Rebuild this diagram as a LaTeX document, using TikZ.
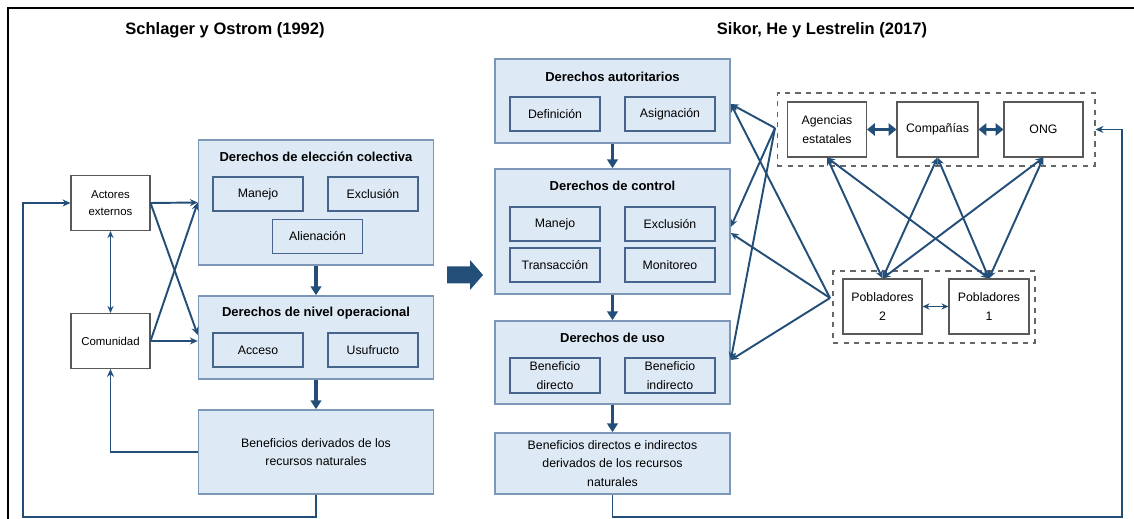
\documentclass[tikz,border=0pt]{standalone}
\usepackage{fontspec}
\setmainfont{Liberation Sans}
\usetikzlibrary{positioning,arrows.meta,shapes}
\definecolor{BoxFill}{RGB}{221,233,245}
\definecolor{BoxEdge}{RGB}{125,152,182}
\definecolor{SubEdge}{RGB}{70,100,140}
\definecolor{FlowBlue}{RGB}{35,78,120}

\tikzset{
  txt/.style={font=\fontsize{7}{10.5}\selectfont, align=center},
  bigbox/.style={rectangle, draw=BoxEdge, fill=BoxFill, line width=0.9pt, minimum width=4.7cm, inner sep=1pt, txt},
  subbox/.style={rectangle, draw=SubEdge, fill=BoxFill, line width=0.6pt, minimum width=1.8cm, minimum height=0.68cm, inner sep=1pt, txt},
  actor/.style={rectangle, draw=gray!70!black, fill=white, line width=0.6pt, minimum width=1.58cm, minimum height=1.1cm, inner sep=1pt, txt},
  small/.style={font=\fontsize{6.5}{9.6}\selectfont},
  group/.style={rectangle, draw=gray!80!black, dashed, line width=0.6pt},
  heading/.style={font=\bfseries\fontsize{7.4}{9}\selectfont},
  title/.style={font=\bfseries\fontsize{9.4}{11}\selectfont},
  flow/.style={draw=FlowBlue, line width=1.8pt, -{Triangle[length=5pt,width=6pt]}},
  link/.style={draw=FlowBlue, line width=1.1pt, -{Stealth[length=4.5pt,width=4pt]}},
  both/.style={draw=FlowBlue, line width=1.1pt, {Stealth[length=4.5pt,width=4pt]}-{Stealth[length=4.5pt,width=4pt]}},
  fatboth/.style={draw=FlowBlue, line width=1.6pt, {Triangle[length=4.5pt,width=7pt]}-{Triangle[length=4.5pt,width=7pt]}},
  thinboth/.style={draw=FlowBlue, line width=0.9pt, {Stealth[length=4pt,width=3.5pt]}-{Stealth[length=4pt,width=3.5pt]}},
}

\begin{document}
\begin{tikzpicture}[x=0.02cm, y=-0.02cm]
  \useasboundingbox (0,0) rectangle (1134,519);
  \draw[line width=1.3pt] (8,519) -- (8,8) -- (1134,8);

  \node[title] (tl) at (225,30) {Schlager y Ostrom (1992)};
  \node[title] (tr) at (822,30) {Sikor, He y Lestrelin (2017)};

  % Schlager y Ostrom
  \node[bigbox, minimum height=2.5cm] (ele) at (316,202.5) {};
  \node[heading] (eleT) at (316,157) {Derechos de elección colectiva};
  \node[subbox] (man1) at (258,194) {Manejo};
  \node[subbox] (exc1) at (373,194) {Exclusión};
  \node[subbox] (ali) at (317.5,236.5) {Alienación};

  \node[bigbox, minimum height=1.66cm] (ope) at (316,337.5) {};
  \node[heading] (opeT) at (316,313) {Derechos de nivel operacional};
  \node[subbox] (acc) at (258,350) {Acceso};
  \node[subbox] (usu) at (373,350) {Usufructo};

  \node[bigbox, minimum height=1.68cm] (ben1) at (316,452) {Beneficios derivados de los\\recursos naturales};

  \node[actor, small] (act) at (110.5,203) {Actores\\externos};
  \node[actor, small] (com) at (110.5,341) {Comunidad};

  \draw[flow] (ele.south) -- (ope.north);
  \draw[flow] (ope.south) -- (ben1.north);
  \draw[thinboth] (act.south) -- (com.north);
  \draw[link] (act.east) -- (ele.west);
  \draw[link] (act.east) -- ([yshift=0.05cm]ope.west);
  \draw[link] (com.east) -- (ele.west);
  \draw[link] (com.east) -- (com.east -| ope.west);
  \draw[link] (ben1.west) -| (com.south);
  \coordinate (loopL) at (23,517);
  \draw[link] (ben1.south) |- (loopL) |- (act.west);

  % big arrow between both schemes
  \fill[FlowBlue] (447,266.5) -- (470,266.5) -- (470,260) -- (483,275)
    -- (470,290) -- (470,283.5) -- (447,283.5) -- cycle;

  % Sikor, He y Lestrelin
  \node[bigbox, minimum height=1.68cm] (aut) at (612.5,101) {};
  \node[heading] (autT) at (612.5,77) {Derechos autoritarios};
  \node[subbox] (def) at (555,114) {Definición};
  \node[subbox] (asi) at (670,114) {Asignación};

  \node[bigbox, minimum height=2.5cm] (con) at (612.5,231.5) {};
  \node[heading] (conT) at (612.5,186) {Derechos de control};
  \node[subbox] (man2) at (555,224) {Manejo};
  \node[subbox] (exc2) at (670,224) {Exclusión};
  \node[subbox] (tra) at (555,265) {Transacción};
  \node[subbox] (mon) at (670,265) {Monitoreo};

  \node[bigbox, minimum height=1.66cm] (uso) at (612.5,362.5) {};
  \node[heading] (usoT) at (612.5,338) {Derechos de uso};
  \node[subbox, minimum height=0.7cm] (bdi) at (555,375.5) {Beneficio\\directo};
  \node[subbox, minimum height=0.7cm] (bin) at (670,375.5) {Beneficio\\indirecto};

  \node[bigbox, minimum height=1.22cm] (ben2) at (612.5,463.5) {Beneficios directos e indirectos\\derivados de los recursos\\naturales};

  \draw[flow] (aut.south) -- (con.north);
  \draw[flow] (con.south) -- (uso.north);
  \draw[flow] (uso.south) -- (ben2.north);

  \node[group, minimum width=6.36cm, minimum height=1.46cm] (grpT) at (936,129.5) {};
  \node[actor] (age) at (827,129.5) {Agencias\\estatales};
  \node[actor, minimum width=1.62cm] (cia) at (937.5,129.5) {Compañías};
  \node[actor] (ong) at (1043.5,129.5) {ONG};

  \node[group, minimum width=4.04cm, minimum height=1.44cm] (grpB) at (934,307) {};
  \node[actor] (p2) at (882.5,306.5) {Pobladores\\2};
  \node[actor, minimum width=1.6cm] (p1) at (989,306.5) {Pobladores\\1};

  \draw[fatboth] (age.east) -- (cia.west);
  \draw[fatboth] (cia.east) -- (ong.west);
  \draw[thinboth] (p2.east) -- (p1.west);
  \foreach \t in {age,cia,ong}
    \foreach \b in {p2,p1}
      \draw[both] (\t.south) -- (\b.north);

  \coordinate (fanT) at (775,128);
  \coordinate (fanB) at (830,298);
  \draw[link] (fanT) -- ([yshift=-0.06cm]aut.east);
  \draw[link] (fanT) -- ([yshift=0.09cm]con.east);
  \draw[link] (fanT) -- ([yshift=0.05cm]uso.east);
  \draw[link] (fanB) -- ([yshift=-0.06cm]aut.east);
  \draw[link] (fanB) -- ([yshift=-0.03cm]con.east);
  \draw[link] (fanB) -- ([yshift=0.05cm]uso.east);

  \coordinate (loopR) at (1122,517);
  \draw[link] (ben2.south) |- (loopR) |- (grpT.east);
\end{tikzpicture}
\end{document}
